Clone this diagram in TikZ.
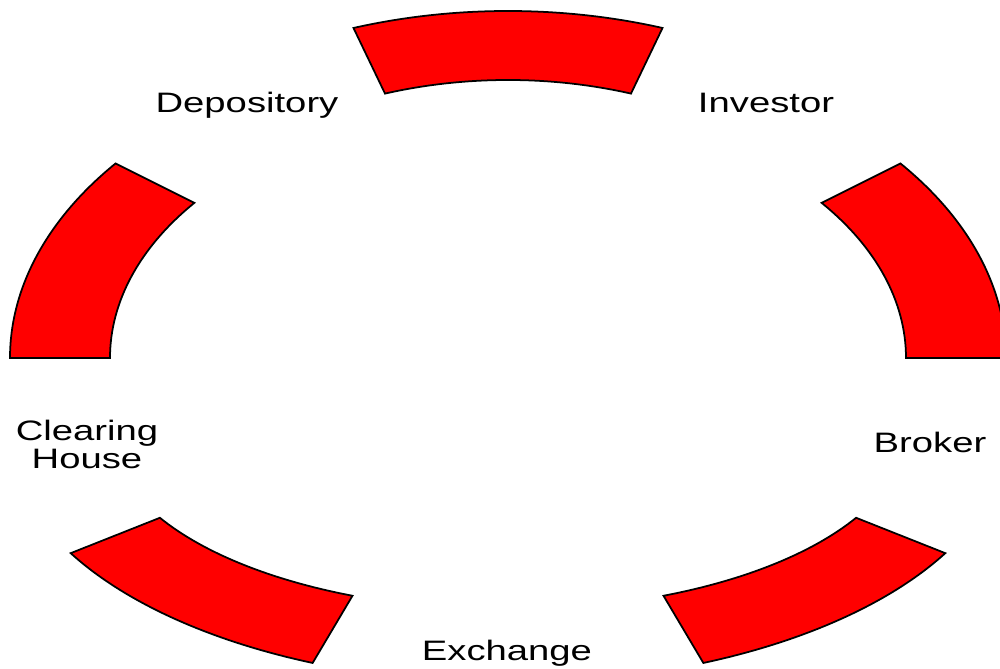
\documentclass[tikz,border=0pt]{standalone}
\usepackage{fontspec}
\setmainfont{Liberation Sans}
\usetikzlibrary{calc}
\definecolor{ringRed}{RGB}{255,0,0}

\begin{document}
\begin{tikzpicture}[x=0.1mm, y=0.1mm,
    piece/.style={fill=ringRed, draw=black, line width=0.5pt, line join=miter},
    tag/.style={inner sep=0pt, font=\fontsize{8}{8}\selectfont, xscale=1.36, transform shape}]
  \useasboundingbox (0,0) rectangle (1000,669);
  \clip (0,0) rectangle (1000,669);
  \coordinate (HUB) at (508,311);
  \coordinate (LOW) at (508,238);

  % ring pieces: centre / start / end / outer radii / inner radii
  \foreach \c/\s/\e/\ox/\oy/\ix/\iy in {HUB/72/108/50/34.7/39.8/27.8,
      HUB/0/38/49.8/31.6/39.8/25.2, HUB/142/180/49.8/31.6/39.8/25.2,
      LOW/-29/-67/50/25.2/39.8/17.9, LOW/-151/-113/50/25.2/39.8/17.9}
    \path[piece] ($(\c)+(\s:\ox mm and \oy mm)$)
      arc[start angle=\s, end angle=\e, x radius=\ox mm, y radius=\oy mm]
      -- ($(\c)+(\e:\ix mm and \iy mm)$)
      arc[start angle=\e, end angle=\s, x radius=\ix mm, y radius=\iy mm] -- cycle;

  \node[tag, anchor=base] (DEP) at (247,556) {Depository};
  \node[tag, anchor=base] (INV) at (766,556) {Investor};
  \node[tag, anchor=base] (BRK) at (930,216) {Broker};
  \node[tag, anchor=base] (EXC) at (507,8) {Exchange};
  \node[tag, anchor=north, align=center] (CLR) at (87,250) {Clearing\\House};
\end{tikzpicture}
\end{document}
